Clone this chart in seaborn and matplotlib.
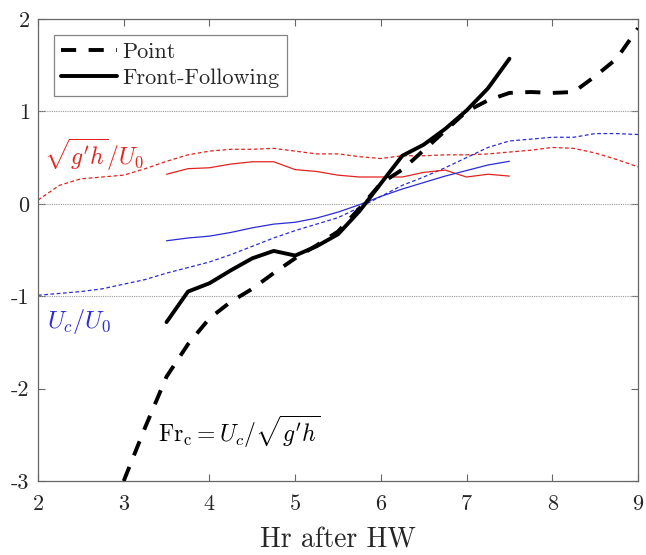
import numpy as np
import pandas as pd
import matplotlib
matplotlib.use("Agg")
import matplotlib.pyplot as plt
import seaborn as sns

# ---- data ----
x_point = [3.0, 3.25, 3.5, 3.75, 4.0, 4.25, 4.5, 4.75, 5.0, 5.25, 5.5, 5.75, 6.0,
           6.25, 6.5, 6.75, 7.0, 7.25, 7.5, 7.75, 8.0, 8.25, 8.5, 8.75, 9.0]
fr_point = [-3.0, -2.42, -1.87, -1.52, -1.24, -1.06, -0.92, -0.75, -0.59, -0.45, -0.30,
            -0.05, 0.22, 0.37, 0.58, 0.79, 1.00, 1.12, 1.20, 1.21, 1.20, 1.21, 1.38, 1.57, 1.90]

x_front = [3.5, 3.75, 4.0, 4.25, 4.5, 4.75, 5.0, 5.25, 5.5, 5.75, 6.0, 6.25, 6.5,
           6.75, 7.0, 7.25, 7.5]
fr_front = [-1.28, -0.95, -0.86, -0.72, -0.59, -0.51, -0.56, -0.46, -0.33, -0.08, 0.22,
            0.52, 0.64, 0.81, 1.01, 1.25, 1.57]

x_full = [2.0, 2.25, 2.5, 2.75, 3.0, 3.25, 3.5, 3.75, 4.0, 4.25, 4.5, 4.75, 5.0, 5.25,
          5.5, 5.75, 6.0, 6.25, 6.5, 6.75, 7.0, 7.25, 7.5, 7.75, 8.0, 8.25, 8.5, 8.75, 9.0]
c_point = [0.04, 0.20, 0.27, 0.29, 0.31, 0.38, 0.46, 0.53, 0.57, 0.59, 0.59, 0.60, 0.57,
           0.54, 0.54, 0.51, 0.49, 0.52, 0.52, 0.53, 0.53, 0.54, 0.56, 0.58, 0.61, 0.60,
           0.55, 0.48, 0.40]
u_point = [-0.99, -0.97, -0.95, -0.92, -0.87, -0.82, -0.75, -0.69, -0.63, -0.55, -0.46,
           -0.37, -0.29, -0.22, -0.15, -0.04, 0.08, 0.20, 0.29, 0.39, 0.50, 0.61, 0.68,
           0.70, 0.72, 0.72, 0.76, 0.76, 0.75]

c_front = [0.32, 0.38, 0.39, 0.43, 0.455, 0.455, 0.37, 0.35, 0.31, 0.29, 0.29, 0.29,
           0.34, 0.365, 0.29, 0.32, 0.30]
u_front = [-0.40, -0.37, -0.35, -0.31, -0.26, -0.22, -0.20, -0.155, -0.09, -0.01, 0.08,
           0.16, 0.23, 0.30, 0.36, 0.42, 0.46]

x_ticks = [2, 3, 4, 5, 6, 7, 8, 9]
x_ticklabels = ["2", "3", "4", "5", "6", "7", "8", "9"]
y_ticks = [-3, -2, -1, 0, 1, 2]
y_ticklabels = ["-3", "-2", "-1", "0", "1", "2"]
ref_lines = [-1, 0, 1]

# ---- style ----
sns.set_theme(style="white")
plt.rcParams["font.family"] = ["cmr10"]
plt.rcParams["mathtext.fontset"] = "cm"
plt.rcParams["axes.unicode_minus"] = False
plt.rcParams["axes.formatter.use_mathtext"] = True

fig = plt.figure(figsize=(6.46, 5.55), dpi=100)
ax = fig.add_axes([38 / 646, 1 - 481 / 555, 600 / 646, 462 / 555])

red = "#e3231d"
blue = "#2b2bd9"
frame = "#666666"

for yv in ref_lines:
    ax.axhline(yv, color="#9a9a9a", lw=0.8, ls=(0, (1, 1)), zorder=1)

df_c_pt = pd.DataFrame({"x": x_full, "y": c_point})
df_u_pt = pd.DataFrame({"x": x_full, "y": u_point})
df_c_fr = pd.DataFrame({"x": x_front, "y": c_front})
df_u_fr = pd.DataFrame({"x": x_front, "y": u_front})
df_fr_pt = pd.DataFrame({"x": x_point, "y": fr_point})
df_fr_fr = pd.DataFrame({"x": x_front, "y": fr_front})

sns.lineplot(data=df_c_pt, x="x", y="y", ax=ax, color=red, lw=0.9,
             linestyle=(0, (3, 2)), zorder=2)
sns.lineplot(data=df_u_pt, x="x", y="y", ax=ax, color=blue, lw=0.9,
             linestyle=(0, (3, 2)), zorder=2)
sns.lineplot(data=df_c_fr, x="x", y="y", ax=ax, color=red, lw=0.9, zorder=2)
sns.lineplot(data=df_u_fr, x="x", y="y", ax=ax, color=blue, lw=0.9, zorder=2)
sns.lineplot(data=df_fr_pt, x="x", y="y", ax=ax, color="black", lw=2.8,
             linestyle=(0, (3.9, 3.2)), label="Point", zorder=3)
sns.lineplot(data=df_fr_fr, x="x", y="y", ax=ax, color="black", lw=2.8,
             label="Front-Following", zorder=3)

ax.set_xlim(2, 9)
ax.set_ylim(-3, 2)
ax.set_xticks(x_ticks)
ax.set_xticklabels(x_ticklabels)
ax.set_yticks(y_ticks)
ax.set_yticklabels(y_ticklabels)
ax.set_xlabel("Hr after HW", fontsize=20, labelpad=9)
ax.set_ylabel("")

for s in ax.spines.values():
    s.set_color(frame)
    s.set_linewidth(0.9)
ax.tick_params(direction="in", length=5, width=0.8, color=frame,
               labelsize=16, top=True, right=True, bottom=True, left=True)
ax.tick_params(axis="x", pad=10)
ax.tick_params(axis="y", pad=6)

ax.text(2.07, 0.42, r"$\sqrt{g'h}/U_0$", color=red, fontsize=17, ha="left", va="baseline")
ax.text(2.1, -1.34, r"$U_c/U_0$", color=blue, fontsize=17.5, ha="left", va="baseline")
ax.text(3.4, -2.575, r"$\mathrm{Fr_c} = U_c/\sqrt{g'h}$", color="black", fontsize=17,
        ha="left", va="baseline")

leg = ax.legend(loc="upper left", fontsize=16, frameon=True, fancybox=False,
                edgecolor=frame, handlelength=2.5, handletextpad=0.25,
                borderpad=0.35, labelspacing=0.3, borderaxespad=0.7)
leg.get_frame().set_linewidth(0.9)

fig.savefig("out.png", dpi=100)
